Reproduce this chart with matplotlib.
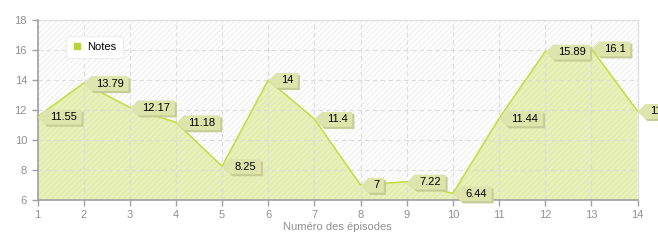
#!/usr/bin/env python3
import matplotlib
matplotlib.use("Agg")
import matplotlib.pyplot as plt
import matplotlib.patheffects as pe
from matplotlib.path import Path
from matplotlib.patches import Rectangle

plt.rcParams.update({
    "font.family": "Liberation Sans",
    "font.size": 7.5,
    "hatch.linewidth": 0.6,
})

episodes = list(range(1, 15))
notes = [11.55, 13.79, 12.17, 11.18, 8.25, 14, 11.4, 7, 7.22, 6.44, 11.44, 15.89, 16.1, 11.93]
note_labels = ["11.55", "13.79", "12.17", "11.18", "8.25", "14", "11.4", "7", "7.22", "6.44",
               "11.44", "15.89", "16.1", "11.93"]
yticks = [6, 8, 10, 12, 14, 16, 18]

line_color = "#c2dd3c"
fill_color = "#e8f0bc"
tag_color = "#dde5ad"
axis_color = "#a0a0a0"


def tag_box(x0, y0, width, height, mutation_size):
    # rectangle with a pointer on the left side (pixel units)
    padx = 0.42 * mutation_size
    pady = 0.22 * mutation_size
    x0 -= padx
    y0 -= pady
    width += 2 * padx
    height += 2 * pady
    tip = 7.5
    verts = [(x0 - tip, y0 + height / 2), (x0, y0 + height), (x0 + width, y0 + height),
             (x0 + width, y0), (x0, y0), (x0 - tip, y0 + height / 2)]
    codes = [Path.MOVETO] + [Path.LINETO] * 4 + [Path.CLOSEPOLY]
    return Path(verts, codes)


fig = plt.figure(figsize=(6.58, 2.4), dpi=100)
ax = fig.add_axes([37.5 / 658, 40 / 240, 600 / 658, 180 / 240])
ax.set_xlim(1, 14)
ax.set_ylim(6, 18)

# hatched background
ax.add_patch(Rectangle((0, 0), 1, 1, transform=ax.transAxes, facecolor="white",
                       edgecolor="#e8e8e8", hatch="//////", linewidth=0, zorder=0))

ax.fill_between(episodes, notes, 6, facecolor=fill_color, edgecolor="#dde8a0",
                hatch="//////", linewidth=0, zorder=1)
ax.plot(episodes, notes, color=line_color, linewidth=1.1, zorder=3, clip_on=False)

ax.set_xticks(episodes)
ax.set_yticks(yticks)
ax.grid(True, color="#dcdcdc", linestyle=(0, (4, 3)), linewidth=0.8)
for ln in ax.get_xgridlines() + ax.get_ygridlines():
    ln.set_zorder(2)

for s in ["left", "bottom"]:
    ax.spines[s].set_color(axis_color)
    ax.spines[s].set_linewidth(1.2)
    ax.spines[s].set_zorder(4)
for s in ["top", "right"]:
    ax.spines[s].set_color("#e0e0e0")
    ax.spines[s].set_linewidth(1.0)
ax.tick_params(colors=axis_color, labelcolor="#909090", labelsize=8, length=4, width=1)
ax.set_xlabel("Numéro des épisodes", color="#909090", fontsize=8, labelpad=1)

for x, y, lab in zip(episodes, notes, note_labels):
    t = ax.annotate(lab, (x, y), xytext=(9.0, -0.3), textcoords="offset points",
                    ha="left", va="center", fontsize=8, color="black", zorder=5,
                    annotation_clip=False,
                    bbox=dict(boxstyle=tag_box, facecolor=tag_color, edgecolor="none"))
    t.get_bbox_patch().set_path_effects([
        pe.SimplePatchShadow(offset=(1.5, -1.5), shadow_rgbFace="#c5cd95", alpha=1.0),
        pe.Normal()])

leg = ax.legend([plt.Line2D([], [], marker="s", linestyle="none", color="#b5d633", markersize=4)],
                ["Notes"], loc="upper left", bbox_to_anchor=(0.047, 0.91), fontsize=8,
                frameon=True, fancybox=True, handletextpad=0.4, borderpad=0.55,
                handlelength=1.0, borderaxespad=0)
leg.get_frame().set_facecolor("white")
leg.get_frame().set_edgecolor("#eeeeee")
leg.get_frame().set_alpha(1.0)
leg.set_zorder(6)

fig.savefig("out.png", dpi=100)
